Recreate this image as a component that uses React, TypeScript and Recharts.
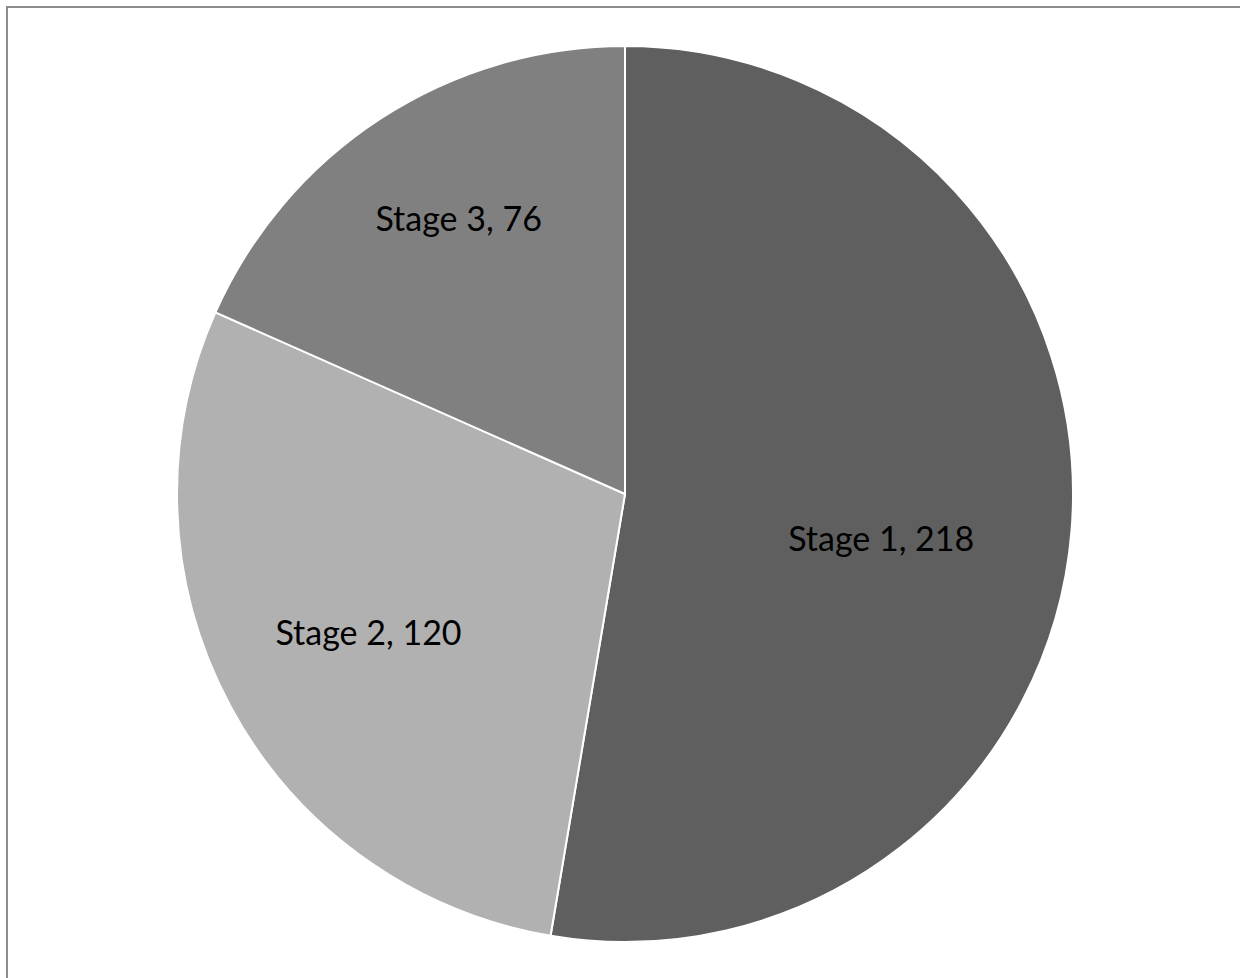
import React from 'react';
import { PieChart, Pie, Cell } from 'recharts';

// stage counts
const stages = ['Stage 1', 'Stage 2', 'Stage 3'];
const counts = [218, 120, 76];

const sliceColors = ['#5f5f5f', '#b1b1b1', '#808080'];
// label placement (fraction of radius, angle nudge in degrees), like Excel's best-fit
const labelOffsets = [0.58, 0.65, 0.72];
const labelAngleShift = [-4.8, 0, -2];

const RAD = Math.PI / 180;

const data = stages.map((name, i) => ({ name, value: counts[i] }));

const renderLabel = (props: any) => {
  const { cx, cy, midAngle, outerRadius, index, name, value } = props;
  const r = outerRadius * labelOffsets[index];
  const a = midAngle + labelAngleShift[index];
  const x = cx + r * Math.cos(-a * RAD);
  const y = cy + r * Math.sin(-a * RAD);
  return (
    <text
      x={x}
      y={y}
      fill="#000"
      textAnchor="middle"
      dominantBaseline="central"
      style={{ fontFamily: 'Lato, "Open Sans", sans-serif', fontSize: 34 }}
    >
      {`${name}, ${value}`}
    </text>
  );
};

const App: React.FC = () => {
  return (
    <div style={{ position: 'absolute', left: 0, top: 0, width: 1240, height: 978, background: '#fff', overflow: 'hidden' }}>
      <div
        style={{
          position: 'absolute',
          left: 6,
          top: 6,
          width: 1240,
          height: 978,
          borderTop: '2px solid #8c8c8c',
          borderLeft: '2px solid #8c8c8c',
        }}
      />
      <div style={{ position: 'absolute', left: 0, top: 0 }}>
        <PieChart width={1240} height={978} margin={{ top: 0, right: 0, bottom: 0, left: 0 }}>
          <Pie
            data={data}
            dataKey="value"
            nameKey="name"
            cx={625}
            cy={494}
            outerRadius={448}
            startAngle={90}
            endAngle={-270}
            stroke="#fff"
            strokeWidth={2}
            label={renderLabel}
            labelLine={false}
            isAnimationActive={false}
          >
            {data.map((d, i) => (
              <Cell key={d.name} fill={sliceColors[i]} />
            ))}
          </Pie>
        </PieChart>
      </div>
    </div>
  );
};

export default App;
